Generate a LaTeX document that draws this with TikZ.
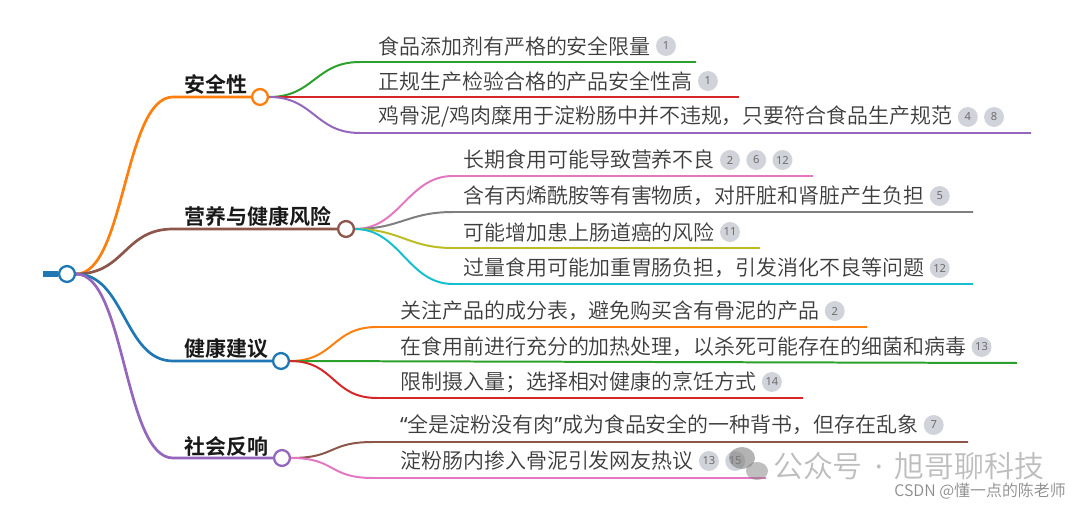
\documentclass[tikz,border=0pt]{standalone}
\usepackage{fontspec}
\setmainfont{Noto Sans CJK SC}[UprightFont=* DemiLight, BoldFont=* Bold]
\newfontfamily\latinq{Noto Sans}
\usetikzlibrary{positioning}

\definecolor{cOrange}{HTML}{FF7F0E}
\definecolor{cBrown}{HTML}{8C564B}
\definecolor{cBlue}{HTML}{1F77B4}
\definecolor{cPurple}{HTML}{9467BD}
\definecolor{cGreen}{HTML}{2CA02C}
\definecolor{cRed}{HTML}{D62728}
\definecolor{cPink}{HTML}{E377C2}
\definecolor{cGray}{HTML}{7F7F7F}
\definecolor{cOlive}{HTML}{BCBD22}
\definecolor{cCyan}{HTML}{17BECF}
\definecolor{leafgray}{HTML}{3C3C3C}
\definecolor{badgegray}{HTML}{D0D3D9}
\definecolor{badgetext}{HTML}{6E6E6E}
\definecolor{markgray}{HTML}{BDBDBD}

\newcommand{\leaffont}{\fontsize{17.9}{20}\selectfont}
\newcommand{\catfont}{\fontsize{17.9}{20}\selectfont\bfseries}
\newcommand{\badgefont}{\fontsize{9.5}{10}\selectfont\latinq}

\begin{document}
\begin{tikzpicture}[
    x=0.03cm, y=-0.03cm,
    cat/.style={anchor=west, inner sep=0pt, text=black!90, font=\catfont},
    leaf/.style={anchor=west, inner sep=0pt, text=leafgray, font=\leaffont},
    dot/.style={circle, draw, fill=white, line width=2pt, minimum size=13.5pt, inner sep=0pt},
    badge/.style={circle, fill=badgegray, text=badgetext, font=\badgefont, minimum size=17pt, inner sep=0pt},
    branch/.style={line width=2.3pt},
    link/.style={line width=1.7pt}
]
  \useasboundingbox (0,0) rectangle (1080,511);

  % Root
  \coordinate (stub) at (43,274);
  \node[dot, draw=cBlue] (root) at (67,274) {};
  \draw[line width=4.5pt, cBlue] (stub) -- (root.west);

  % Categories
  \node[dot, draw=cOrange] (ca) at (260,97) {};
  \node[dot, draw=cBrown] (cb) at (346,229) {};
  \node[dot, draw=cBlue] (cc) at (281,361) {};
  \node[dot, draw=cPurple] (cd) at (282,458) {};
  \node[cat] (ta) at (184,84) {安全性};
  \node[cat] (tb) at (184,216) {营养与健康风险};
  \node[cat] (tc) at (184,349) {健康建议};
  \node[cat] (td) at (184,446) {社会反响};

  \coordinate (as) at (173,97);
  \coordinate (bs) at (173,229);
  \coordinate (cs) at (173,361);
  \coordinate (ds) at (173,458);
  \draw[branch, cOrange] (root.east) .. controls +(49,0) and +(-49,0) .. (as) -- (ca.west);
  \draw[branch, cBrown] (root.east) .. controls +(49,0) and +(-49,0) .. (bs) -- (cb.west);
  \draw[branch, cBlue] (root.east) .. controls +(49,0) and +(-49,0) .. (cs) -- (cc.west);
  \draw[branch, cPurple] (root.east) .. controls +(49,0) and +(-49,0) .. (ds) -- (cd.west);

  % Leaves: safety
  \node[leaf] (a1) at (378,46) {食品添加剂有严格的安全限量};
  \node[leaf] (a2) at (378,81) {正规生产检验合格的产品安全性高};
  \node[leaf] (a3) at (378,117) {鸡骨泥/鸡肉糜用于淀粉肠中并不违规，只要符合食品生产规范};
  \node[badge, right=4pt of a1] (a1n) {1};
  \node[badge, right=4pt of a2] (a2n) {1};
  \node[badge, right=4pt of a3] (a3n) {4};
  \node[badge, right=5pt of a3n] (a3m) {8};
  \coordinate (a1s) at (360,62);  \coordinate (a1e) at (696,62);
  \coordinate (a2s) at (360,97);  \coordinate (a2e) at (739,97);
  \coordinate (a3s) at (360,133); \coordinate (a3e) at (1031,133);
  \draw[link, cGreen] (ca.east) .. controls +(45,0) and +(-45,0) .. (a1s) -- (a1e);
  \draw[link, cRed] (ca.east) -- (a2e);
  \draw[link, cPurple] (ca.east) .. controls +(45,0) and +(-45,0) .. (a3s) -- (a3e);

  % Leaves: nutrition and health risk
  \node[leaf] (b1) at (463,160) {长期食用可能导致营养不良};
  \node[leaf] (b2) at (463,196) {含有丙烯酰胺等有害物质，对肝脏和肾脏产生负担};
  \node[leaf] (b3) at (463,232) {可能增加患上肠道癌的风险};
  \node[leaf] (b4) at (463,268) {过量食用可能加重胃肠负担，引发消化不良等问题};
  \node[badge, right=4pt of b1] (b1n) {2};
  \node[badge, right=5pt of b1n] (b1m) {6};
  \node[badge, right=5pt of b1m] (b1k) {12};
  \node[badge, right=4pt of b2] (b2n) {5};
  \node[badge, right=4pt of b3] (b3n) {11};
  \node[badge, right=4pt of b4] (b4n) {12};
  \coordinate (b1s) at (453,176); \coordinate (b1e) at (813,176);
  \coordinate (b2s) at (453,212); \coordinate (b2e) at (973,212);
  \coordinate (b3s) at (453,248); \coordinate (b3e) at (760,248);
  \coordinate (b4s) at (453,284); \coordinate (b4e) at (973,284);
  \draw[link, cPink] (cb.east) .. controls +(45,0) and +(-45,0) .. (b1s) -- (b1e);
  \draw[link, cGray] (cb.east) .. controls +(45,0) and +(-45,0) .. (b2s) -- (b2e);
  \draw[link, cOlive] (cb.east) .. controls +(45,0) and +(-45,0) .. (b3s) -- (b3e);
  \draw[link, cCyan] (cb.east) .. controls +(45,0) and +(-45,0) .. (b4s) -- (b4e);

  % Leaves: advice
  \node[leaf] (c1) at (400,311) {关注产品的成分表，避免购买含有骨泥的产品};
  \node[leaf] (c2) at (400,347) {在食用前进行充分的加热处理，以杀死可能存在的细菌和病毒};
  \node[leaf] (c3) at (400,382) {限制摄入量；选择相对健康的烹饪方式};
  \node[badge, right=4pt of c1] (c1n) {2};
  \node[badge, right=4pt of c2] (c2n) {13};
  \node[badge, right=4pt of c3] (c3n) {14};
  \coordinate (c1s) at (377,327); \coordinate (c1e) at (867,327);
  \coordinate (c2e) at (1017,363);
  \coordinate (c3s) at (377,398); \coordinate (c3e) at (803,398);
  \draw[link, cOrange] (cc.east) .. controls +(45,0) and +(-45,0) .. (c1s) -- (c1e);
  \draw[link, cGreen] (cc.east) -- (c2e);
  \draw[link, cRed] (cc.east) .. controls +(45,0) and +(-45,0) .. (c3s) -- (c3e);

  % Leaves: public reaction
  \node[leaf] (d1) at (400,425) {{\latinq “}全是淀粉没有肉{\latinq ”}成为食品安全的一种背书，但存在乱象};
  \node[leaf] (d2) at (400,461) {淀粉肠内掺入骨泥引发网友热议};
  \node[badge, right=4pt of d1] (d1n) {7};
  \node[badge, right=4pt of d2] (d2n) {13};
  \node[badge, right=5pt of d2n] (d2m) {15};
  \coordinate (d1s) at (373,442); \coordinate (d1e) at (968,442);
  \coordinate (d2s) at (373,478); \coordinate (d2e) at (766,478);
  \draw[link, cBrown] (cd.east) .. controls +(45,0) and +(-45,0) .. (d1s) -- (d1e);
  \draw[link, cPink] (cd.east) .. controls +(45,0) and +(-45,0) .. (d2s) -- (d2e);

  % Watermark
  \fill[gray, opacity=0.6] (742,458) ellipse [x radius=13, y radius=11];
  \fill[gray, opacity=0.5] (757,471) ellipse [x radius=11, y radius=9];
  \node[anchor=west, inner sep=0pt, text=markgray, font=\fontsize{25.5}{28}\selectfont] (wm) at (773,466) {公众号{\latinq\hspace{0.4em}·\hspace{0.4em}}旭哥聊科技};
  \node[anchor=east, inner sep=0pt, text=black!45, font=\fontsize{13.6}{15}\selectfont] (csdn) at (1066,491) {CSDN @懂一点的陈老师};
\end{tikzpicture}
\end{document}
